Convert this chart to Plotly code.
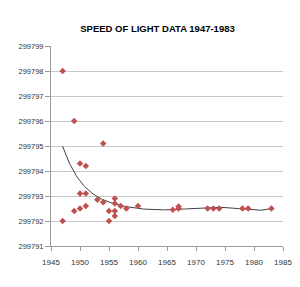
import numpy as np
import plotly.graph_objects as go

years = [1947, 1947, 1949, 1949, 1950, 1950, 1950, 1951, 1951, 1951, 1953, 1954, 1954,
         1955, 1955, 1956, 1956, 1956, 1956, 1957, 1958, 1960, 1966, 1967, 1967,
         1972, 1973, 1974, 1978, 1979, 1983]
speed = [299798.0, 299792.0, 299796.0, 299792.4, 299794.3, 299793.1, 299792.5,
         299794.2, 299793.1, 299792.6, 299792.85, 299795.1, 299792.75,
         299792.4, 299792.0, 299792.9, 299792.7, 299792.4, 299792.2, 299792.6,
         299792.5, 299792.6, 299792.45, 299792.58, 299792.5,
         299792.5, 299792.5, 299792.5, 299792.5, 299792.5, 299792.5]
x_ticks = [1945, 1950, 1955, 1960, 1965, 1970, 1975, 1980, 1985]
y_ticks = [299791, 299792, 299793, 299794, 299795, 299796, 299797, 299798, 299799]
title_text = "SPEED OF LIGHT DATA 1947-1983"

# polynomial trendline fitted to the data
xa = np.array(years, dtype=float)
ya = np.array(speed, dtype=float)
xc = (xa - 1965) / 20
coef = np.polyfit(xc, ya - 299792, 6)
xs = np.linspace(min(years), max(years), 200)
ys = np.polyval(coef, (xs - 1965) / 20) + 299792

FONT = "Liberation Sans, Arial, sans-serif"

fig = go.Figure()
fig.add_trace(go.Scatter(x=xs, y=ys, mode="lines",
                         line=dict(color="#404040", width=1), hoverinfo="skip"))
fig.add_trace(go.Scatter(x=years, y=speed, mode="markers",
                         marker=dict(symbol="diamond", size=5, color="#C0504D")))

fig.update_layout(
    width=300, height=287,
    margin=dict(l=50.5, r=7.7, t=46, b=41.3),
    paper_bgcolor="white", plot_bgcolor="white",
    showlegend=False,
    title=dict(text="<b>" + title_text + "</b>", x=0.525, xanchor="center",
               y=1 - 29 / 287, yanchor="middle",
               font=dict(family=FONT, size=9.5, color="#000")),
    xaxis=dict(range=[1945, 1985], tickvals=x_ticks, ticks="outside", ticklen=4,
               tickcolor="#9a9a9a", showline=True, linecolor="#9a9a9a", linewidth=1,
               showgrid=False, zeroline=False, ticklabeloverflow="allow",
               ticklabelstandoff=4,
               tickfont=dict(family=FONT, size=8, color="#333")),
    yaxis=dict(range=[299791, 299799], tickvals=y_ticks, ticks="outside", ticklen=5,
               tickcolor="#9a9a9a", showline=True, linecolor="#9a9a9a", linewidth=1,
               showgrid=True, gridcolor="#c8c8c8", gridwidth=1, zeroline=False,
               tickformat="d",
               tickfont=dict(family=FONT, size=7.5, color="#333")),
)
fig.write_html("out.html")
